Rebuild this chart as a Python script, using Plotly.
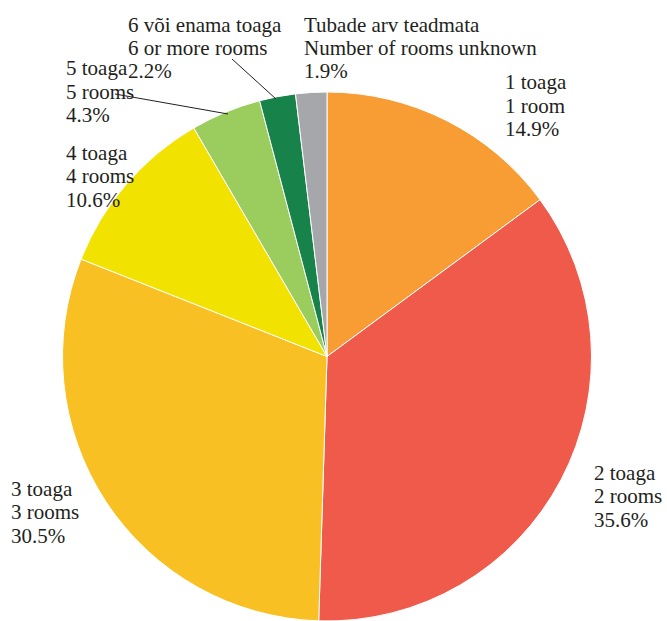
import plotly.graph_objects as go

W, H = 667, 621

labels_et = ["1 toaga", "2 toaga", "3 toaga", "4 toaga", "5 toaga", "6 või enama toaga", "Tubade arv teadmata"]
labels_en = ["1 room", "2 rooms", "3 rooms", "4 rooms", "5 rooms", "6 or more rooms", "Number of rooms unknown"]
values = [14.9, 35.6, 30.5, 10.6, 4.3, 2.2, 1.9]
colors = ["#F79D34", "#EF5A4B", "#F9C023", "#F2E200", "#9ACD5E", "#17834A", "#A5A7AA"]

# label block: left x and first baseline in pixels (layout)
label_pos = [(504, 89.5), (593, 480), (10, 496), (65, 160), (65, 75.5), (127, 31.7), (303, 31.7)]
LINE_STEP = 23.4
FONT_SIZE = 21
# leader lines in pixels (layout)
leaders = {4: ((115, 94), (228, 114)), 5: ((232, 59), (276, 99))}


def px(x):
    return x / W


def py(y):
    return 1 - y / H


fig = go.Figure(go.Pie(
    labels=labels_en,
    values=values,
    sort=False,
    direction="clockwise",
    rotation=0,
    marker=dict(colors=colors, line=dict(color="white", width=1)),
    textinfo="none",
    hoverinfo="label+percent",
    showlegend=False,
    domain=dict(x=[62.5 / W, 591.5 / W], y=[0, py(92)]),
))

annotations = []
for i, (et, en, v) in enumerate(zip(labels_et, labels_en, values)):
    x0, b0 = label_pos[i]
    for k, line in enumerate([et, en, f"{v:.1f}%"]):
        base = b0 + k * LINE_STEP
        annotations.append(dict(
            x=px(x0), y=py(base - 0.34 * FONT_SIZE), xref="paper", yref="paper",
            xanchor="left", yanchor="middle", align="left", showarrow=False,
            borderpad=0, text=line,
            font=dict(family="Liberation Serif", size=FONT_SIZE, color="#231F20"),
        ))

shapes = []
for i, ((xa, ya), (xb, yb)) in leaders.items():
    shapes.append(dict(type="line", xref="paper", yref="paper",
                       x0=px(xa), y0=py(ya), x1=px(xb), y1=py(yb),
                       line=dict(color="#231F20", width=1)))

fig.update_layout(
    width=W, height=H,
    margin=dict(l=0, r=0, t=0, b=0),
    paper_bgcolor="white", plot_bgcolor="white",
    annotations=annotations, shapes=shapes,
)

fig.write_html("out.html", config={"displayModeBar": False},
               post_script="document.body.style.margin='0px';")
